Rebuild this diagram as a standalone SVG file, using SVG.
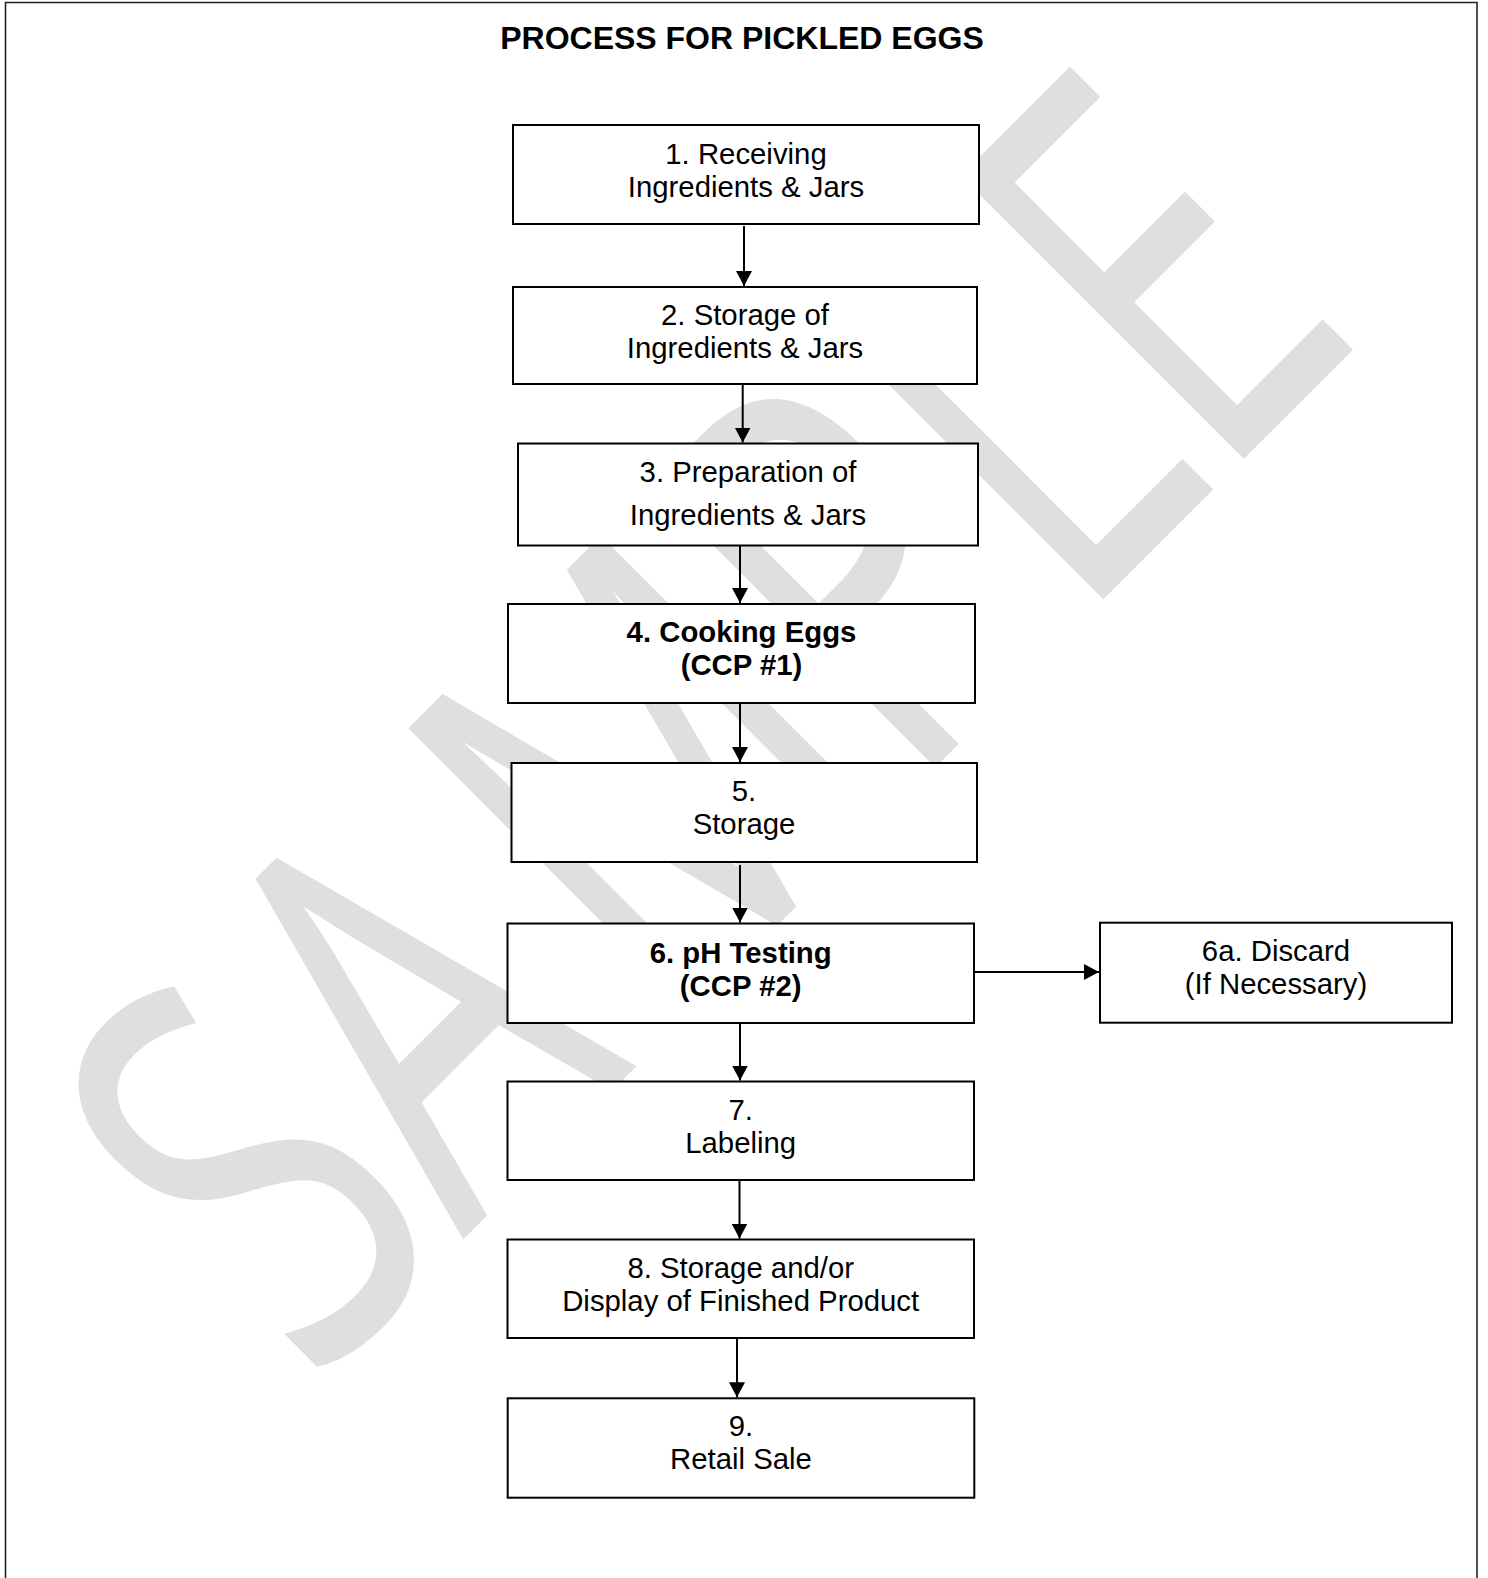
<svg xmlns="http://www.w3.org/2000/svg" width="1488" height="1578" viewBox="0 0 1488 1578">
<style>
.bx{fill:#fff;stroke:#000;stroke-width:2}
.t{font-family:"Liberation Sans",Arial,sans-serif;font-size:29.33px;fill:#000;text-anchor:middle}
.b{font-weight:bold}
.cn{stroke:#000;stroke-width:2;fill:none;marker-end:url(#ah)}
</style>
<defs>
<marker id="ah" viewBox="0 0 15 16" refX="15" refY="8" markerWidth="15" markerHeight="16" orient="auto" markerUnits="userSpaceOnUse"><path d="M0,0 L15,8 L0,16 Z" fill="#000"/></marker>
</defs>
<rect width="1488" height="1578" fill="#fff"/>
<path d="M5.5,1590 V2.5 H1477 V1590" fill="none" stroke="#222" stroke-width="1.6"/>
<g id="watermark">
<text transform="rotate(-45) scale(0.69,1)" x="-1103.3 -794 -381.6 118.5 463 751" y="1203" font-family="'Open Sans','Liberation Sans',sans-serif" font-size="558" fill="#dfdfdf" stroke="#dfdfdf" stroke-width="2" stroke-linejoin="round">SAMPLE</text>
</g>
<text id="title" x="742" y="49.3" font-family="Liberation Sans,Arial,sans-serif" font-size="32" font-weight="bold" text-anchor="middle">PROCESS FOR PICKLED EGGS</text>
<g id="connectors">
<line class="cn" x1="744" y1="226" x2="744" y2="286"/>
<line class="cn" x1="742.7" y1="385" x2="742.7" y2="442.5"/>
<line class="cn" x1="740" y1="546" x2="740" y2="603"/>
<line class="cn" x1="740" y1="704" x2="740" y2="762"/>
<line class="cn" x1="740" y1="865" x2="740" y2="922.5"/>
<line class="cn" x1="740" y1="1024" x2="740" y2="1080.5"/>
<line class="cn" x1="739.5" y1="1181" x2="739.5" y2="1238.5"/>
<line class="cn" x1="737" y1="1339" x2="737" y2="1397.3"/>
<line class="cn" x1="975" y1="972" x2="1099" y2="972"/>
</g>
<g id="n1"><rect class="bx" x="513" y="125" width="466" height="99"/>
<text class="t" x="746" y="163.5">1. Receiving</text><text class="t" x="746" y="197">Ingredients &amp; Jars</text></g>
<g id="n2"><rect class="bx" x="513" y="287" width="464" height="97"/>
<text class="t" x="745" y="324.5">2. Storage of</text><text class="t" x="745" y="357.5">Ingredients &amp; Jars</text></g>
<g id="n3"><rect class="bx" x="518" y="443.5" width="460" height="102"/>
<text class="t" x="748" y="481.7">3. Preparation of</text><text class="t" x="748" y="525">Ingredients &amp; Jars</text></g>
<g id="n4"><rect class="bx" x="508" y="604" width="467" height="99"/>
<text class="t b" x="741.5" y="641.5">4. Cooking Eggs</text><text class="t b" x="741.5" y="675">(CCP #1)</text></g>
<g id="n5"><rect class="bx" x="511.5" y="763" width="465.5" height="99"/>
<text class="t" x="744" y="800.5">5.</text><text class="t" x="744" y="833.7">Storage</text></g>
<g id="n6"><rect class="bx" x="507.5" y="923.5" width="466.5" height="99.5"/>
<text class="t b" x="740.7" y="962.5">6. pH Testing</text><text class="t b" x="740.7" y="995.5">(CCP #2)</text></g>
<g id="n6a"><rect class="bx" x="1100" y="922.7" width="352" height="100"/>
<text class="t" x="1276" y="961">6a. Discard</text><text class="t" x="1276" y="994">(If Necessary)</text></g>
<g id="n7"><rect class="bx" x="507.5" y="1081.5" width="466.5" height="98.5"/>
<text class="t" x="740.7" y="1119.5">7.</text><text class="t" x="740.7" y="1153">Labeling</text></g>
<g id="n8"><rect class="bx" x="507.5" y="1239.5" width="466.5" height="98.5"/>
<text class="t" x="740.7" y="1277.5">8. Storage and/or</text><text class="t" x="740.7" y="1311">Display of Finished Product</text></g>
<g id="n9"><rect class="bx" x="507.7" y="1398.3" width="466.6" height="99.4"/>
<text class="t" x="741" y="1435.7">9.</text><text class="t" x="741" y="1469.3">Retail Sale</text></g>
</svg>
